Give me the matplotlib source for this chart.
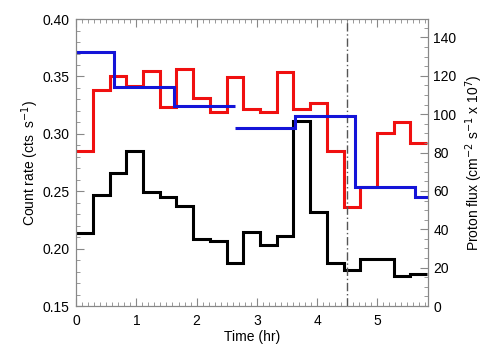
import numpy as np
import matplotlib
matplotlib.use("Agg")
import matplotlib.pyplot as plt
from matplotlib.ticker import MultipleLocator

plt.rcParams['font.family'] = ['Liberation Sans', 'DejaVu Sans']

# Count rate bins (hr)
bin_width = 0.2775
count_edges = np.arange(22) * bin_width

black_rate = [0.2136, 0.2464, 0.2656, 0.2848, 0.2496, 0.2452, 0.2371, 0.2086,
              0.2066, 0.1875, 0.2145, 0.2029, 0.2107, 0.3111, 0.2316, 0.1872,
              0.1816, 0.1906, 0.1906, 0.1764, 0.1782]
red_rate = [0.2850, 0.3380, 0.3506, 0.3419, 0.3547, 0.3236, 0.3562, 0.3309,
            0.3190, 0.3492, 0.3216, 0.3190, 0.3538, 0.3216, 0.3266, 0.2853,
            0.2360, 0.2534, 0.3010, 0.3103, 0.2923]

# Proton flux (hourly), two separate runs
proton_edges_a = [-0.37, 0.63, 1.63, 2.63]
proton_flux_a = [132.5, 114.1, 104.2]
proton_edges_b = [2.63, 3.63, 4.63, 5.63, 6.63]
proton_flux_b = [92.6, 99.1, 61.9, 56.6]

event_time = 4.5

fig = plt.figure(figsize=(5.04, 3.6), dpi=100)
ax = fig.add_axes([0.151, 0.15, 0.698, 0.797])
ax2 = ax.twinx()

lw = 2.2
ax.stairs(black_rate, count_edges, color='black', lw=lw, baseline=None)
ax.stairs(red_rate, count_edges, color='#f01010', lw=lw, baseline=None)
ax2.stairs(proton_flux_a, proton_edges_a, color='#1414d8', lw=lw, baseline=None)
ax2.stairs(proton_flux_b, proton_edges_b, color='#1414d8', lw=lw, baseline=None)
ax.axvline(event_time, color='#555555', lw=1.0, ls=(0, (6, 2, 1, 2)))

ax.set_xlim(0, 5.84)
ax.set_ylim(0.15, 0.40)
ax2.set_ylim(0, 149.6)

ax.xaxis.set_major_locator(MultipleLocator(1))
ax.xaxis.set_minor_locator(MultipleLocator(0.1))
ax.yaxis.set_major_locator(MultipleLocator(0.05))
ax.yaxis.set_minor_locator(MultipleLocator(0.01))
ax2.yaxis.set_major_locator(MultipleLocator(20))
ax2.yaxis.set_minor_locator(MultipleLocator(5))
ax2.set_yticks([0, 20, 40, 60, 80, 100, 120, 140])
ax.yaxis.set_major_formatter(matplotlib.ticker.FormatStrFormatter('%.2f'))

tc = '#888888'
for a in (ax, ax2):
    for s in a.spines.values():
        s.set_color(tc)
        s.set_linewidth(0.8)
ax.tick_params(axis='x', which='both', direction='in', top=True, bottom=True,
               color=tc, labelsize=10, pad=6)
ax.tick_params(axis='y', which='both', direction='in', left=True, right=False,
               color=tc, labelsize=10, pad=5)
ax.tick_params(which='major', length=6, width=0.8)
ax.tick_params(which='minor', length=3, width=0.6)
ax2.tick_params(axis='y', which='both', direction='in', right=True, left=False,
                color=tc, labelsize=10, pad=4)
ax2.tick_params(which='major', length=6, width=0.8)
ax2.tick_params(which='minor', length=3, width=0.6)

ax.set_xlabel('Time (hr)', fontsize=10, labelpad=1)
ax.set_ylabel('Count rate (cts  s$^{-1}$)', fontsize=10, labelpad=1)
ax2.set_ylabel('Proton flux (cm$^{-2}$ s$^{-1}$ x 10$^{7}$)', fontsize=10, labelpad=5)

fig.savefig('out.png', dpi=100)
